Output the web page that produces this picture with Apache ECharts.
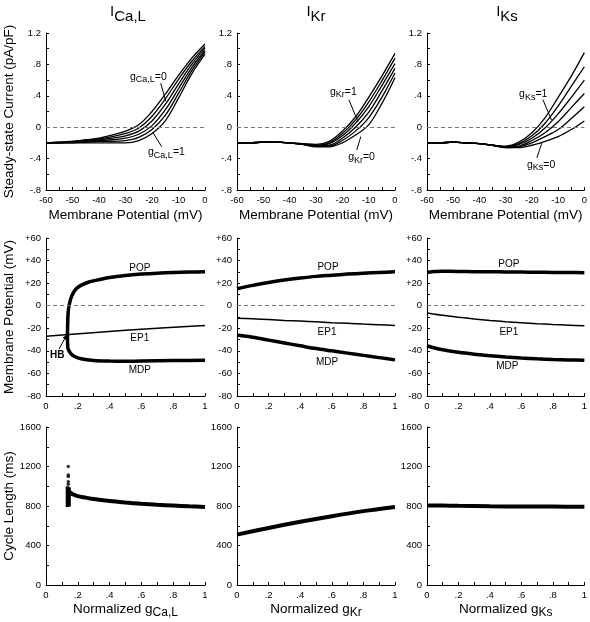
<!DOCTYPE html>
<html><head><meta charset="utf-8">
<script src="https://cdn.jsdelivr.net/npm/echarts@6/dist/echarts.min.js"></script>
<style>html,body{margin:0;padding:0;background:#fff}#c{width:590px;height:622px}</style>
</head><body><div id="c"></div>
<script>
const FONT = "'Liberation Sans', Arial, Helvetica, sans-serif";

// ---------- Row 1: steady-state I-V curves ----------
const vm = [-60,-55,-50,-45,-40,-35,-30,-25,-20,-15,-10,-5,0];
const gLevels = [0, 0.2, 0.4, 0.6, 0.8, 1];
const ivCaL = [
  [-0.20,-0.19,-0.18,-0.16,-0.14,-0.10,-0.05,0.03,0.20,0.42,0.66,0.88,1.06],
  [-0.20,-0.19,-0.18,-0.17,-0.15,-0.12,-0.08,-0.01,0.14,0.36,0.61,0.84,1.03],
  [-0.20,-0.20,-0.19,-0.18,-0.16,-0.14,-0.11,-0.05,0.08,0.29,0.55,0.80,1.01],
  [-0.20,-0.20,-0.19,-0.18,-0.17,-0.16,-0.14,-0.09,0.02,0.22,0.49,0.76,0.98],
  [-0.20,-0.20,-0.20,-0.19,-0.18,-0.18,-0.17,-0.13,-0.03,0.15,0.43,0.72,0.96],
  [-0.20,-0.20,-0.20,-0.20,-0.20,-0.20,-0.20,-0.17,-0.08,0.08,0.37,0.68,0.93]
];
const ivKr = [
  [-0.20,-0.20,-0.19,-0.19,-0.20,-0.22,-0.25,-0.25,-0.20,-0.10,0.03,0.30,0.63],
  [-0.20,-0.20,-0.19,-0.19,-0.20,-0.22,-0.24,-0.24,-0.17,-0.05,0.12,0.38,0.69],
  [-0.20,-0.20,-0.19,-0.19,-0.20,-0.22,-0.24,-0.23,-0.14,0.00,0.19,0.46,0.75],
  [-0.20,-0.20,-0.19,-0.19,-0.20,-0.22,-0.23,-0.21,-0.11,0.05,0.26,0.53,0.81],
  [-0.20,-0.20,-0.19,-0.19,-0.20,-0.21,-0.23,-0.20,-0.08,0.09,0.32,0.59,0.88],
  [-0.20,-0.20,-0.19,-0.19,-0.20,-0.21,-0.22,-0.18,-0.05,0.13,0.38,0.65,0.94]
];
const ivKs = [
  [-0.20,-0.20,-0.19,-0.20,-0.21,-0.23,-0.26,-0.26,-0.23,-0.18,-0.12,-0.03,0.08],
  [-0.20,-0.20,-0.19,-0.20,-0.21,-0.23,-0.26,-0.25,-0.20,-0.12,-0.03,0.11,0.26],
  [-0.20,-0.20,-0.19,-0.20,-0.21,-0.23,-0.25,-0.24,-0.17,-0.07,0.07,0.25,0.43],
  [-0.20,-0.20,-0.19,-0.20,-0.21,-0.23,-0.25,-0.22,-0.14,-0.01,0.17,0.38,0.60],
  [-0.20,-0.20,-0.19,-0.20,-0.21,-0.23,-0.25,-0.21,-0.11,0.05,0.27,0.52,0.77],
  [-0.20,-0.20,-0.19,-0.20,-0.21,-0.23,-0.24,-0.19,-0.07,0.12,0.38,0.65,0.95]
];

// ---------- Row 2: bifurcation diagrams (membrane potential) ----------
const caPopX = [0.135,0.137,0.14,0.145,0.155,0.17,0.19,0.22,0.27,0.33,0.4,0.5,0.6,0.7,0.8,0.9,1.0];
const caPopY = [-25,-12,-5,0,6,11,15,18,21,23,25,26.8,28,28.8,29.4,29.8,30];
const caMdpX = [0.135,0.137,0.145,0.16,0.18,0.22,0.3,0.4,0.5,0.6,0.8,1.0];
const caMdpY = [-25,-37,-40,-43,-45,-47,-48.5,-49,-49.2,-49,-48.6,-48.3];
const caEp1X = [0,0.25,0.5,0.75,1];
const caEp1Y = [-27,-24.3,-21.8,-19.6,-17.6];

const krX = [0,0.1,0.2,0.3,0.4,0.5,0.6,0.7,0.8,0.9,1];
const krPop = [15,18,20.5,22.7,24.5,26,27,28,28.8,29.4,30];
const krEp1 = [-11,-11.6,-12.3,-13,-13.6,-14.3,-15,-15.6,-16.3,-16.9,-17.5];
const krMdp = [-26,-28,-30.5,-33,-35.5,-38,-40,-42,-44,-46,-48];

const ksX = [0,0.05,0.1,0.2,0.3,0.4,0.5,0.6,0.7,0.8,0.9,1];
const ksPop = [29.5,30.3,30.5,30.4,30.2,30.1,29.9,29.8,29.6,29.5,29.4,29.3];
const ksEp1 = [-6.5,-7.6,-8.5,-10.2,-11.7,-13,-14.1,-15,-15.9,-16.6,-17.2,-17.8];
const ksMdp = [-35.5,-37.5,-39,-41.3,-43,-44.4,-45.5,-46.4,-47.1,-47.6,-48,-48.3];

// ---------- Row 3: cycle length ----------
const caClX = [0.15,0.155,0.16,0.18,0.2,0.25,0.3,0.4,0.5,0.6,0.7,0.8,0.9,1.0];
const caClY = [925,935,925,912,900,885,870,850,835,822,812,805,797,790];
const caClusterA = [[0.135,790],[0.135,1000]];
const caClusterB = [[0.145,795],[0.145,990]];
const caOutX = [0.14,0.14,0.14,0.14,0.14];
const caOutY = [1200,1115,1100,1045,1020];
const krClX = [0,0.2,0.4,0.6,0.8,1];
const krClY = [510,578,640,697,748,790];
const ksClX = [0,0.1,0.2,0.4,0.6,0.8,1];
const ksClY = [805,806,802,797,795,794,792];

// ---------- tick label formats ----------
function fmtDec(v){ const r = Math.round(v*10)/10; if (r === 0) return '0'; return String(r).replace(/^(-?)0\./,'$1.'); }
function fmtSigned(v){ const r = Math.round(v); return r > 0 ? '+' + r : String(r); }
function fmtInt(v){ return String(Math.round(v)); }

const zip = (xs, ys) => xs.map((x,i)=>[x, ys[i]]);

const colL = [46,237,427], colW = [159,158,159];
const rowT = [33,238,427], rowH = [157,158,158];
const grids = [];
for (let r=0;r<3;r++) for (let c=0;c<3;c++) grids.push({left:colL[c], top:rowT[r], width:colW[c], height:rowH[r]});

function axisBase(extra){
  return Object.assign({
    type:'value',
    axisLine:{show:true,onZero:false,lineStyle:{color:'#000',width:1}},
    axisTick:{show:true,inside:true,length:3,lineStyle:{color:'#000',width:1}},
    minorTick:{show:true,splitNumber:2,length:3,lineStyle:{color:'#000',width:1}},
    splitLine:{show:false}, minorSplitLine:{show:false},
    nameLocation:'middle',
    nameTextStyle:{color:'#000',fontFamily:FONT,fontSize:13.5}
  }, extra);
}
const lab = (f) => ({color:'#000',fontFamily:FONT,fontSize:9.5,margin:5,formatter:f,showMinLabel:true,showMaxLabel:true});

const xAxes = [], yAxes = [];
const subNames = ['Ca,L','Kr','Ks'];
for (let i=0;i<9;i++){
  const r = Math.floor(i/3), c = i%3;
  if (r === 0) {
    xAxes.push(axisBase({gridIndex:i,min:-60,max:0,interval:10,axisLabel:lab(fmtInt),
      name:'Membrane Potential (mV)',nameGap:18}));
    yAxes.push(axisBase({gridIndex:i,min:-0.8,max:1.2,interval:0.4,axisLabel:lab(fmtDec),
      name: c===0 ? 'Steady-state Current (pA/pF)' : '', nameGap:30}));
  } else if (r === 1) {
    xAxes.push(axisBase({gridIndex:i,min:0,max:1,interval:0.2,axisLabel:lab(fmtDec)}));
    yAxes.push(axisBase({gridIndex:i,min:-80,max:60,interval:20,axisLabel:lab(fmtSigned),
      name: c===0 ? 'Membrane Potential (mV)' : '', nameGap:30}));
  } else {
    xAxes.push(axisBase({gridIndex:i,min:0,max:1,interval:0.2,axisLabel:lab(fmtDec),
      name:'{n|Normalized g}{s|' + subNames[c] + '}', nameGap:14,
      nameTextStyle:{color:'#000',fontFamily:FONT,fontSize:13.5,
        rich:{n:{fontFamily:FONT,fontSize:13.5,color:'#000'},
              s:{fontFamily:FONT,fontSize:12,color:'#000',padding:[8,0,0,0]}}}}));
    yAxes.push(axisBase({gridIndex:i,min:0,max:1600,interval:400,axisLabel:lab(fmtInt),
      name: c===0 ? 'Cycle Length (ms)' : '', nameGap:30}));
  }
}

const series = [];
const zeroLine = {silent:true,symbol:'none',label:{show:false},
  lineStyle:{type:[4,3],color:'#777',width:1},data:[{yAxis:0}]};
function line(gi, data, width, smooth, extra){
  return Object.assign({type:'line',xAxisIndex:gi,yAxisIndex:gi,data:data,symbol:'none',
    smooth:smooth,lineStyle:{color:'#000',width:width},silent:true,animation:false}, extra||{});
}
[ivCaL, ivKr, ivKs].forEach((fam, gi) => {
  fam.forEach((ys, k) => {
    series.push(line(gi, zip(vm, ys), 1.3, 0.35, k===0 ? {markLine:zeroLine} : {}));
  });
});
// Row 2
series.push(line(3, zip(caPopX, caPopY), 3.5, 0.2, {markLine:zeroLine}));
series.push(line(3, zip(caMdpX, caMdpY), 3.5, 0.2));
series.push(line(3, zip(caEp1X, caEp1Y), 1.5, 0.3));
series.push(line(4, zip(krX, krPop), 3.5, 0.3, {markLine:zeroLine}));
series.push(line(4, zip(krX, krEp1), 1.5, 0.3));
series.push(line(4, zip(krX, krMdp), 3.5, 0.3));
series.push(line(5, zip(ksX, ksPop), 3.5, 0.3, {markLine:zeroLine}));
series.push(line(5, zip(ksX, ksEp1), 1.5, 0.3));
series.push(line(5, zip(ksX, ksMdp), 3.5, 0.3));
// Row 3
series.push(line(6, zip(caClX, caClY), 4, 0.3));
series.push(line(6, caClusterA, 3.5, false));
series.push(line(6, caClusterB, 3.5, false));
series.push({type:'scatter',xAxisIndex:6,yAxisIndex:6,data:zip(caOutX, caOutY),symbolSize:3.5,
  itemStyle:{color:'#000'},silent:true,animation:false});
series.push(line(7, zip(krClX, krClY), 4, 0.3));
series.push(line(8, zip(ksClX, ksClY), 4, 0.3));

const chart = echarts.init(document.getElementById('c'), null, {renderer:'canvas'});
chart.setOption({animation:false,backgroundColor:'#fff',grid:grids,xAxis:xAxes,yAxis:yAxes,series:series});

// ---------- annotations (data coordinates) ----------
const gLabels = [
  {g:0, txt:['Ca,L','=0'], at:[-28.3,0.64], ptr:[[-16.7,0.56],[-14.8,0.33]]},
  {g:0, txt:['Ca,L','=1'], at:[-21.5,-0.32], ptr:[[-19.7,-0.065],[-16.3,-0.25]]},
  {g:1, txt:['Kr','=1'], at:[-24.7,0.45], ptr:[[-17.5,0.35],[-14.1,0.07]]},
  {g:1, txt:['Kr','=0'], at:[-17.8,-0.38], ptr:[[-14.5,-0.29],[-13.0,-0.12]]},
  {g:2, txt:['Ks','=1'], at:[-24.9,0.42], ptr:[[-15.8,0.35],[-12.5,0.09]]},
  {g:2, txt:['Ks','=0'], at:[-21.9,-0.48], ptr:[[-18.1,-0.39],[-16.2,-0.2]]}
];
const branchLabels = [
  {g:3, t:'POP', at:[0.59,33.4]}, {g:3, t:'EP1', at:[0.59,-28.6]}, {g:3, t:'MDP', at:[0.59,-57]},
  {g:4, t:'POP', at:[0.576,34.3]}, {g:4, t:'EP1', at:[0.57,-23.3]}, {g:4, t:'MDP', at:[0.57,-49.9]},
  {g:5, t:'POP', at:[0.52,37]}, {g:5, t:'EP1', at:[0.52,-23.3]}, {g:5, t:'MDP', at:[0.51,-53.4]}
];
const hb = {g:3, at:[0.07,-43.7], from:[0.082,-38.4], to:[0.132,-25.5]};
const titles = [{sub:'Ca,L', cx:128}, {sub:'Kr', cx:316}, {sub:'Ks', cx:507}];

const px = (g, p) => chart.convertToPixel({gridIndex:g}, p);
const gr = [];
gLabels.forEach(a => {
  const p = px(a.g, a.at);
  gr.push({type:'text',silent:true,style:{x:p[0],y:p[1],text:'{g|g}{s|'+a.txt[0]+'}{e|'+a.txt[1]+'}',
    align:'left',verticalAlign:'middle',
    rich:{g:{fontFamily:FONT,fontSize:10.5,fill:'#000'},
          s:{fontFamily:FONT,fontSize:9,fill:'#000',padding:[6,0,0,0]},
          e:{fontFamily:FONT,fontSize:10.5,fill:'#000'}}}});
  const a1 = px(a.g, a.ptr[0]), a2 = px(a.g, a.ptr[1]);
  gr.push({type:'line',silent:true,shape:{x1:a1[0],y1:a1[1],x2:a2[0],y2:a2[1]},style:{stroke:'#000',lineWidth:1}});
});
branchLabels.forEach(a => {
  const p = px(a.g, a.at);
  gr.push({type:'text',silent:true,style:{x:p[0],y:p[1],text:a.t,align:'center',verticalAlign:'middle',
    font:'10px ' + FONT, fill:'#000'}});
});
{
  const p = px(hb.g, hb.at), f = px(hb.g, hb.from), t = px(hb.g, hb.to);
  gr.push({type:'text',silent:true,style:{x:p[0],y:p[1],text:'HB',align:'center',verticalAlign:'middle',
    font:'bold 10px ' + FONT, fill:'#000'}});
  gr.push({type:'line',silent:true,shape:{x1:f[0],y1:f[1],x2:t[0],y2:t[1]},style:{stroke:'#000',lineWidth:1}});
  const dx = t[0]-f[0], dy = t[1]-f[1], L = Math.hypot(dx,dy), ux = dx/L, uy = dy/L;
  const hl = 5, hw = 2.2;
  gr.push({type:'polygon',silent:true,shape:{points:[[t[0],t[1]],
    [t[0]-ux*hl-uy*hw, t[1]-uy*hl+ux*hw],[t[0]-ux*hl+uy*hw, t[1]-uy*hl-ux*hw]]},style:{fill:'#000'}});
}
titles.forEach(tt => {
  gr.push({type:'text',silent:true,style:{x:tt.cx,y:12,text:'{i|I}{s|'+tt.sub+'}',align:'center',verticalAlign:'middle',
    rich:{i:{fontFamily:FONT,fontSize:15,fill:'#000'},
          s:{fontFamily:FONT,fontSize:15,fill:'#000',padding:[10,0,0,0]}}}});
});
chart.setOption({graphic:gr});
</script>
</body></html>
